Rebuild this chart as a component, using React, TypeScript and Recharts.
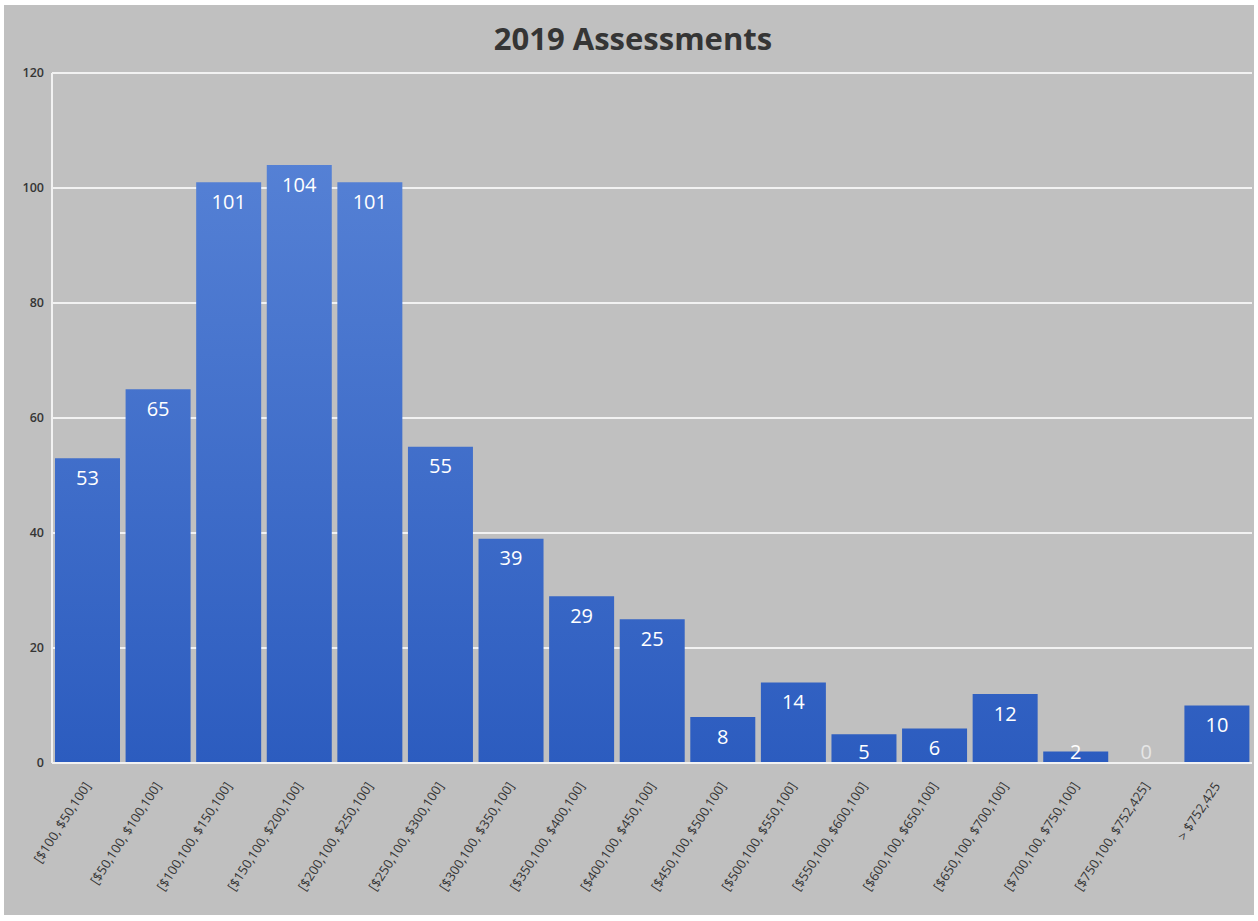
import { BarChart, Bar, XAxis, YAxis, CartesianGrid } from 'recharts'

// ── Data ──────────────────────────────────────────────────────────────────────

const RANGES = [
  '[$100, $50,100]', '[$50,100, $100,100]', '[$100,100, $150,100]', '[$150,100, $200,100]',
  '[$200,100, $250,100]', '[$250,100, $300,100]', '[$300,100, $350,100]', '[$350,100, $400,100]',
  '[$400,100, $450,100]', '[$450,100, $500,100]', '[$500,100, $550,100]', '[$550,100, $600,100]',
  '[$600,100, $650,100]', '[$650,100, $700,100]', '[$700,100, $750,100]', '[$750,100, $752,425]',
  '> $752,425',
]
const COUNTS = [53, 65, 101, 104, 101, 55, 39, 29, 25, 8, 14, 5, 6, 12, 2, 0, 10]
const Y_TICKS = [0, 20, 40, 60, 80, 100, 120]

const chartData = RANGES.map((range, i) => ({ range, count: COUNTS[i] }))

// ── Styles ────────────────────────────────────────────────────────────────────

const W = 1258
const H = 921
const MARGIN = { top: 73, right: 6, left: 0, bottom: 0 }
const FONT = '"Open Sans", "DejaVu Sans", sans-serif'
const TEXT = '#353535'

function RangeTick({ x, y, payload }: any) {
  return (
    <g transform={`translate(${x + 4},${y + 15})`}>
      <text transform="rotate(-57)" textAnchor="end" fontSize={13} fontFamily={FONT} fill={TEXT}>
        {payload.value}
      </text>
    </g>
  )
}

// bar + its value label, label pushed above the baseline for short bars
function BarWithValue({ x, y, width, height, value, fill }: any) {
  const base = y + height
  const cy = Math.min(y + 19, base - 12)
  const v = Array.isArray(value) ? value[1] - value[0] : value
  return (
    <g>
      {height > 0 && <rect x={x} y={y} width={width} height={height} fill={fill} />}
      <text x={x + width / 2} y={cy} textAnchor="middle" dominantBaseline="central"
        fontSize={20} fontFamily={FONT} fill={v === 0 ? '#e6e6e6' : '#ffffff'}>
        {v}
      </text>
    </g>
  )
}

export default function App() {
  return (
    <div style={{ position: 'absolute', left: 0, top: 0, width: W, height: H, background: '#ffffff' }}>
      <div style={{ position: 'absolute', left: 4, top: 5, width: 1250, height: 910, background: '#c0c0c0' }} />
      <div style={{
        position: 'absolute', left: 0, top: 18, width: 1266, textAlign: 'center',
        fontFamily: FONT, fontWeight: 700, fontSize: 31, color: TEXT, lineHeight: '40px',
      }}>
        2019 Assessments
      </div>
      <div style={{ position: 'absolute', left: 0, top: 0 }}>
        <BarChart width={W} height={H} data={chartData} margin={MARGIN} barCategoryGap={3}>
          <defs>
            <linearGradient id="barFill" gradientUnits="userSpaceOnUse" x1="0" y1="73" x2="0" y2="763">
              <stop offset="0%" stopColor="#5b86d8" />
              <stop offset="100%" stopColor="#2c5cbf" />
            </linearGradient>
          </defs>
          <CartesianGrid vertical={false} stroke="#f2f2f2" strokeWidth={2} />
          <XAxis dataKey="range" interval={0} height={158} tick={<RangeTick />}
            axisLine={{ stroke: '#f2f2f2', strokeWidth: 2 }} tickLine={false} />
          <YAxis width={52} domain={[0, 120]} ticks={Y_TICKS} tickLine={false}
            axisLine={{ stroke: '#f2f2f2', strokeWidth: 2 }}
            tick={{ fontSize: 12.5, fill: TEXT, fontFamily: FONT, fontWeight: 600 }} />
          <Bar dataKey="count" fill="url(#barFill)" isAnimationActive={false} shape={<BarWithValue />} />
        </BarChart>
      </div>
    </div>
  )
}
